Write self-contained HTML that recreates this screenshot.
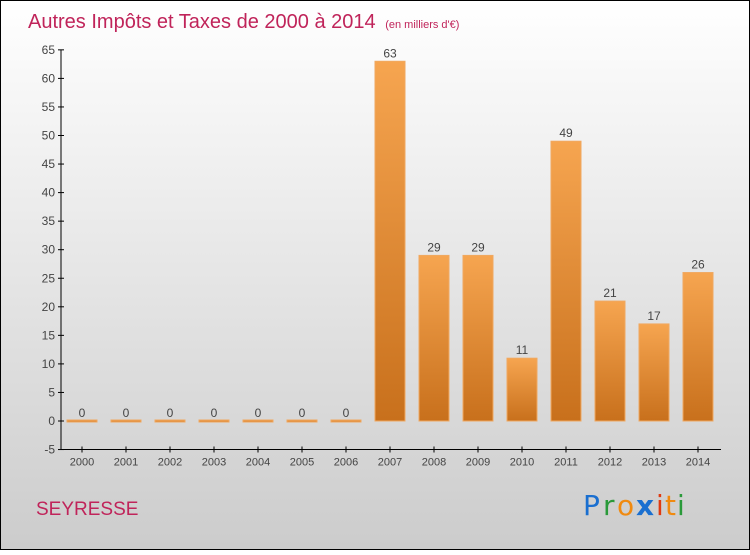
<!DOCTYPE html>
<html><head><meta charset="utf-8"><style>
body{margin:0}
#c{width:750px;height:550px;position:relative;font-family:"Liberation Sans",sans-serif}
</style></head><body>
<div id="c">
<svg width="750" height="550" xmlns="http://www.w3.org/2000/svg">
<defs>
<linearGradient id="bg" x1="0" y1="0" x2="0" y2="1"><stop offset="0" stop-color="#ffffff"/><stop offset="1" stop-color="#cccccc"/></linearGradient>
<linearGradient id="bar" x1="0" y1="0" x2="0" y2="1"><stop offset="0" stop-color="#f6a550"/><stop offset="1" stop-color="#c8701c"/></linearGradient>
</defs>
<rect x="0.5" y="0.5" width="749" height="549" fill="url(#bg)" stroke="#000"/>
<text x="28" y="28" font-size="20" fill="#c0245a">Autres Impôts et Taxes de 2000 à 2014 <tspan font-size="11" dx="4">(en milliers d'€)</tspan></text>
<g id="axes"></g>
<g id="bars"></g>
<text x="36" y="515" font-size="19" fill="#c0245a">SEYRESSE</text>
<g font-size="28" font-family="'DejaVu Sans',sans-serif">
<text x="583" y="515" fill="#1a6fd0">P</text><text x="603" y="515" fill="#2a9a3a">r</text><text x="617" y="515" fill="#f08a10">o</text><text x="636" y="515" fill="#1a6fd0" font-weight="bold">x</text><text x="656" y="515" fill="#e03a10">i</text><text x="665" y="515" fill="#f08a10">t</text><text x="677" y="515" fill="#2a9a3a">i</text>
</g>
</svg>
</div>
<script>
const years=["2000","2001","2002","2003","2004","2005","2006","2007","2008","2009","2010","2011","2012","2013","2014"];
const values=[0,0,0,0,0,0,0,63,29,29,11,49,21,17,26];
const yTicks=[-5,0,5,10,15,20,25,30,35,40,45,50,55,60,65];
const NS="http://www.w3.org/2000/svg";
const y=v=>421-(v)*5.71;
const x=i=>82+i*44;
function mk(t,a,p){const e=document.createElementNS(NS,t);for(const k in a)e.setAttribute(k,a[k]);p.appendChild(e);return e;}
const ax=document.getElementById('axes'),bg=document.getElementById('bars');
const yl=mk('line',{x1:61,y1:y(65),x2:61,y2:y(-5),stroke:'#000'},ax);


const xl=mk('line',{x1:61,y1:y(-5),x2:721,y2:y(-5),stroke:'#000'},ax);


yTicks.forEach(v=>{
mk('line',{x1:58,x2:64,y1:y(v),y2:y(v),stroke:'#000'},ax);
const t=mk('text',{x:55,y:y(v)+4,'font-size':12,fill:'#444','text-anchor':'end'},ax);t.textContent=v;


});
years.forEach((yr,i)=>{
mk('line',{x1:x(i),x2:x(i),y1:y(-5)-3,y2:y(-5)+3,stroke:'#000'},ax);
const t=mk('text',{x:x(i),y:y(-5)+16,'font-size':11,fill:'#444','text-anchor':'middle'},ax);t.textContent=yr;


const v=values[i];
const top=y(v),h=Math.max(2,y(0)-top);
const r=mk('rect',{x:x(i)-15,y:v>0?top:y(0)-1,width:30,height:h,fill:'url(#bar)',stroke:'#f0a860','stroke-width':1},bg);


const l=mk('text',{x:x(i),y:(v>0?top:y(0))-4,'font-size':12,fill:'#444','text-anchor':'middle'},bg);l.textContent=v;


});
</script>
</body></html>
